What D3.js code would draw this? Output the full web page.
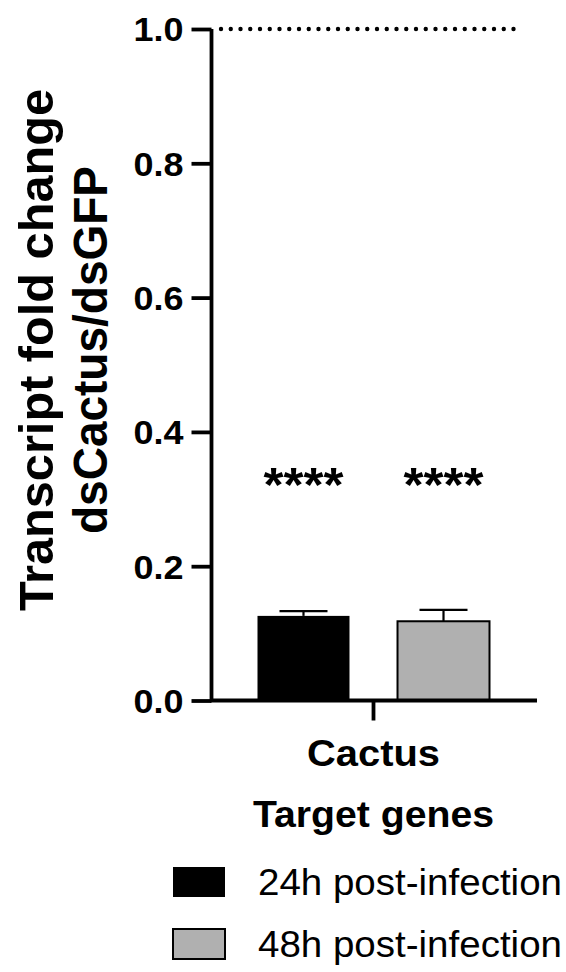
<!DOCTYPE html>
<html><head><meta charset="utf-8">
<script src="https://cdn.jsdelivr.net/npm/d3@7"></script>
<style>html,body{margin:0;padding:0;background:#fff}</style>
</head><body>
<svg id="c" width="566" height="972"></svg>
<script>
const genes = ["Cactus"];
const series = ["24h post-infection", "48h post-infection"];
const means = [0.126, 0.118];
const errs = [0.007, 0.017];
const colors = ["#000000", "#b0b0b0"];
const yTicks = [0, 0.2, 0.4, 0.6, 0.8, 1.0];
const stars = ["****", "****"];
const refLine = 1.0;

const svg = d3.select("#c");
const FONT = "'Liberation Sans', Arial, Helvetica, sans-serif";
const y = d3.scaleLinear().domain([0, 1]).range([700.5, 29]);
const x0 = d3.scaleBand().domain(genes).range([210, 537]);
const xc = x0("Cactus") + x0.bandwidth() / 2;
const x1 = d3.scaleBand().domain(series).range([xc - 116, xc + 116]).paddingInner(0.343).paddingOuter(0);

// bars
series.forEach((s, i) => {
  const bx = x1(s), bw = x1.bandwidth();
  const cx = bx + bw / 2;
  svg.append("line").attr("x1", cx).attr("x2", cx).attr("y1", y(means[i])).attr("y2", y(means[i] + errs[i]))
    .attr("stroke", "#000").attr("stroke-width", 2.2);
  svg.append("line").attr("x1", cx - 24).attr("x2", cx + 24).attr("y1", y(means[i] + errs[i])).attr("y2", y(means[i] + errs[i]))
    .attr("stroke", "#000").attr("stroke-width", 2.2);
  svg.append("rect").attr("x", bx).attr("y", y(means[i])).attr("width", bw).attr("height", y(0) - y(means[i]))
    .attr("fill", colors[i]).attr("stroke", "#000").attr("stroke-width", i === 0 ? 0 : 2);
  svg.append("text").attr("x", cx).attr("y", 501).attr("text-anchor", "middle")
    .attr("font-family", FONT).attr("font-weight", "bold").style("font-size", "48px")
    .attr("textLength", 80).attr("lengthAdjust", "spacingAndGlyphs").text(stars[i]);
});

// dotted reference line
svg.append("line").attr("x1", 221).attr("x2", 520).attr("y1", y(refLine)).attr("y2", y(refLine))
  .attr("stroke", "#000").attr("stroke-width", 4.4).attr("stroke-linecap", "round").attr("stroke-dasharray", "0 9.75");

// y axis
const ya = svg.append("g").attr("transform", "translate(211.5,0)")
  .call(d3.axisLeft(y).tickValues(yTicks).tickFormat(d3.format(".1f")).tickSize(20).tickPadding(8));
ya.select(".domain").attr("stroke-width", 3.8).attr("d", `M0,${y(1)}V${y(0) + 1.5}`);
ya.selectAll(".tick line").attr("stroke-width", 3.8);
ya.selectAll(".tick text").attr("font-family", FONT).attr("font-weight", "bold").style("font-size", "33px")
  .attr("fill", "#000").attr("dy", "0.36em").attr("textLength", 50).attr("lengthAdjust", "spacingAndGlyphs");

// x axis
const xa = svg.append("g").attr("transform", `translate(0,${y(0)})`)
  .call(d3.axisBottom(x0).tickSize(20).tickFormat(""));
xa.select(".domain").attr("stroke-width", 3.8).attr("d", "M210,0H537");
xa.selectAll(".tick line").attr("stroke-width", 3.8);

svg.append("text").attr("x", xc).attr("y", 766).attr("text-anchor", "middle")
  .attr("font-family", FONT).attr("font-weight", "bold").style("font-size", "36px")
  .attr("textLength", 133).attr("lengthAdjust", "spacingAndGlyphs").text(genes[0]);
svg.append("text").attr("x", xc).attr("y", 827).attr("text-anchor", "middle")
  .attr("font-family", FONT).attr("font-weight", "bold").style("font-size", "36px")
  .attr("textLength", 241).attr("lengthAdjust", "spacingAndGlyphs").text("Target genes");

// y title
const yc = 350;
svg.append("text").attr("transform", `translate(53,${yc}) rotate(-90)`).attr("text-anchor", "middle")
  .attr("font-family", FONT).attr("font-weight", "bold").style("font-size", "48px")
  .attr("textLength", 522).attr("lengthAdjust", "spacingAndGlyphs").text("Transcript fold change");
svg.append("text").attr("transform", `translate(107,${yc}) rotate(-90)`).attr("text-anchor", "middle")
  .attr("font-family", FONT).attr("font-weight", "bold").style("font-size", "48px")
  .attr("textLength", 368).attr("lengthAdjust", "spacingAndGlyphs").text("dsCactus/dsGFP");

// legend
const ly = [882, 944];
series.forEach((s, i) => {
  svg.append("rect").attr("x", 173).attr("y", ly[i] - 15).attr("width", 52).attr("height", 30)
    .attr("fill", colors[i]).attr("stroke", "#000").attr("stroke-width", i === 0 ? 0 : 2);
  svg.append("text").attr("x", 258).attr("y", ly[i] + 13).attr("font-family", FONT).style("font-size", "36px")
    .attr("fill", "#000").attr("textLength", 304).attr("lengthAdjust", "spacingAndGlyphs").text(s);
});
</script>
</body></html>
